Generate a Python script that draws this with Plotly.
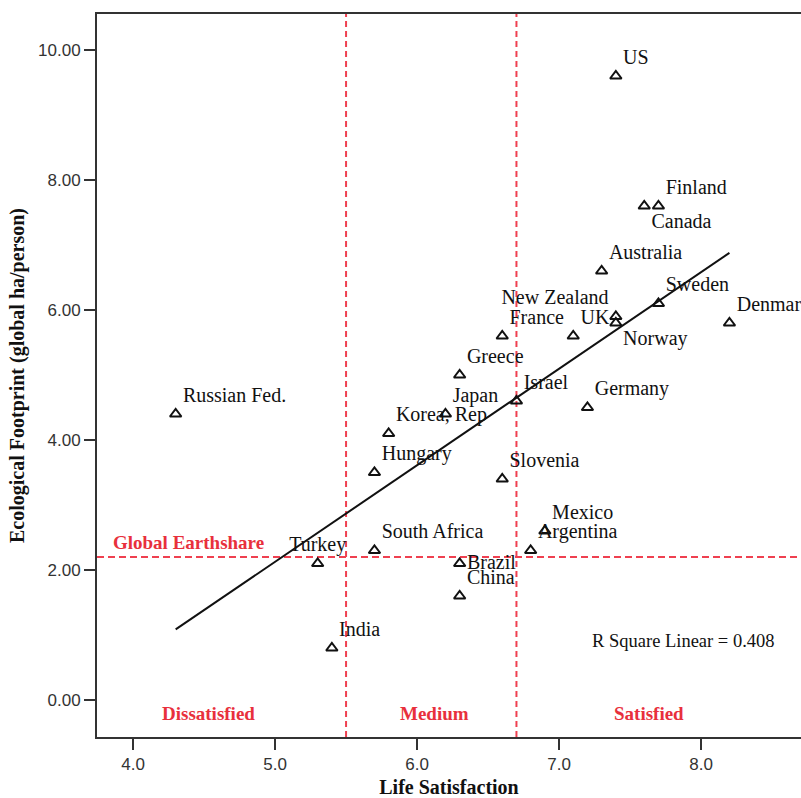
import numpy as np
import plotly.graph_objects as go

countries = ["US", "Finland", "Canada", "Australia", "Sweden", "Denmark", "New Zealand",
             "Norway", "UK", "France", "Greece", "Israel", "Germany", "Japan", "Korea, Rep",
             "Russian Fed.", "Hungary", "Slovenia", "Mexico", "Argentina", "South Africa",
             "Turkey", "Brazil", "China", "India"]
life_satisfaction = [7.4, 7.7, 7.6, 7.3, 7.7, 8.2, 7.4,
                     7.4, 7.1, 6.6, 6.3, 6.7, 7.2, 6.2, 5.8,
                     4.3, 5.7, 6.6, 6.9, 6.8, 5.7,
                     5.3, 6.3, 6.3, 5.4]
footprint = [9.6, 7.6, 7.6, 6.6, 6.1, 5.8, 5.9,
             5.8, 5.6, 5.6, 5.0, 4.6, 4.5, 4.4, 4.1,
             4.4, 3.5, 3.4, 2.6, 2.3, 2.3,
             2.1, 2.1, 1.6, 0.8]
label_positions = ["top right", "top right", "bottom right", "top right", "top right", "top right", "top left",
                   "bottom right", "top right", "top right", "top right", "top right", "top right", "top right", "top right",
                   "top right", "top right", "top right", "top right", "top right", "top right",
                   "top center", "middle right", "top right", "top right"]

satisfaction_thresholds = [5.5, 6.7]
earthshare = 2.2
zone_labels = ["Dissatisfied", "Medium", "Satisfied"]
zone_label_x = [4.53, 6.12, 7.63]
x_ticks = [4.0, 5.0, 6.0, 7.0, 8.0]
y_ticks = [0.0, 2.0, 4.0, 6.0, 8.0, 10.0]

RED = "#e8303c"
SERIF = "Liberation Serif, Times New Roman, serif"
SANS = "Liberation Sans, Arial, sans-serif"

x = np.array(life_satisfaction)
y = np.array(footprint)
slope, intercept = np.polyfit(x, y, 1)
pred = slope * x + intercept
r2 = 1 - np.sum((y - pred) ** 2) / np.sum((y - y.mean()) ** 2)
xfit = np.array([x.min(), x.max()])
yfit = slope * xfit + intercept

fig = go.Figure()

for t in satisfaction_thresholds:
    fig.add_shape(type="line", xref="x", yref="paper", x0=t, x1=t, y0=0, y1=1,
                  line=dict(color="#ef4050", width=2, dash="6px,4px"), layer="below")
fig.add_shape(type="line", xref="paper", yref="y", x0=0, x1=1, y0=earthshare, y1=earthshare,
              line=dict(color="#ef4050", width=2, dash="7px,4px"), layer="below")

fig.add_trace(go.Scatter(x=xfit, y=yfit, mode="lines",
                         line=dict(color="#111111", width=2), showlegend=False, hoverinfo="skip"))

fig.add_trace(go.Scatter(
    x=life_satisfaction, y=footprint, mode="markers+text",
    text=countries, textposition=label_positions,
    textfont=dict(family=SERIF, size=20, color="#111111"),
    marker=dict(symbol="triangle-up-open", size=10, color="#111111", line=dict(width=2, color="#111111")),
    showlegend=False,
))

ann = []
ann.append(dict(x=4.39, y=earthshare + 0.22, xref="x", yref="y", text="<b>Global Earthshare</b>",
                showarrow=False, font=dict(family=SERIF, size=19, color=RED)))
for lab, lx in zip(zone_labels, zone_label_x):
    ann.append(dict(x=lx, y=-0.2, xref="x", yref="y", text="<b>" + lab + "</b>",
                    showarrow=False, font=dict(family=SERIF, size=19, color=RED)))
ann.append(dict(x=7.875, y=0.91, xref="x", yref="y", text=f"R Square Linear = {r2:.3f}",
                showarrow=False, font=dict(family=SERIF, size=18.5, color="#111111")))

fig.update_layout(
    width=801, height=798,
    margin=dict(l=97, r=0, t=14, b=61),
    paper_bgcolor="white", plot_bgcolor="white",
    annotations=ann,
    showlegend=False,
)
fig.update_xaxes(
    range=[3.746, 8.704], tickvals=x_ticks, tickformat=".1f",
    showgrid=False, zeroline=False,
    showline=True, linecolor="#333333", linewidth=2, mirror=True,
    ticks="outside", ticklen=11, tickwidth=2, tickcolor="#333333",
    tickfont=dict(family=SANS, size=17, color="#333333"),
    title=dict(text="<b>Life Satisfaction</b>", font=dict(family=SERIF, size=20, color="#111111"), standoff=8),
)
fig.update_yaxes(
    range=[-0.569, 10.554], tickvals=y_ticks, tickformat=".2f",
    showgrid=False, zeroline=False,
    showline=True, linecolor="#333333", linewidth=2,
    ticks="outside", ticklen=11, tickwidth=2, tickcolor="#333333",
    tickfont=dict(family=SANS, size=17, color="#333333"),
    title=dict(text="<b>Ecological Footprint (global ha/person)</b>", font=dict(family=SERIF, size=20, color="#111111"), standoff=8),
)

fig.write_html(
    "out.html",
    config={"displayModeBar": False},
    default_width="801px", default_height="798px",
    post_script="document.body.style.margin='0';document.body.style.overflow='hidden';",
)
